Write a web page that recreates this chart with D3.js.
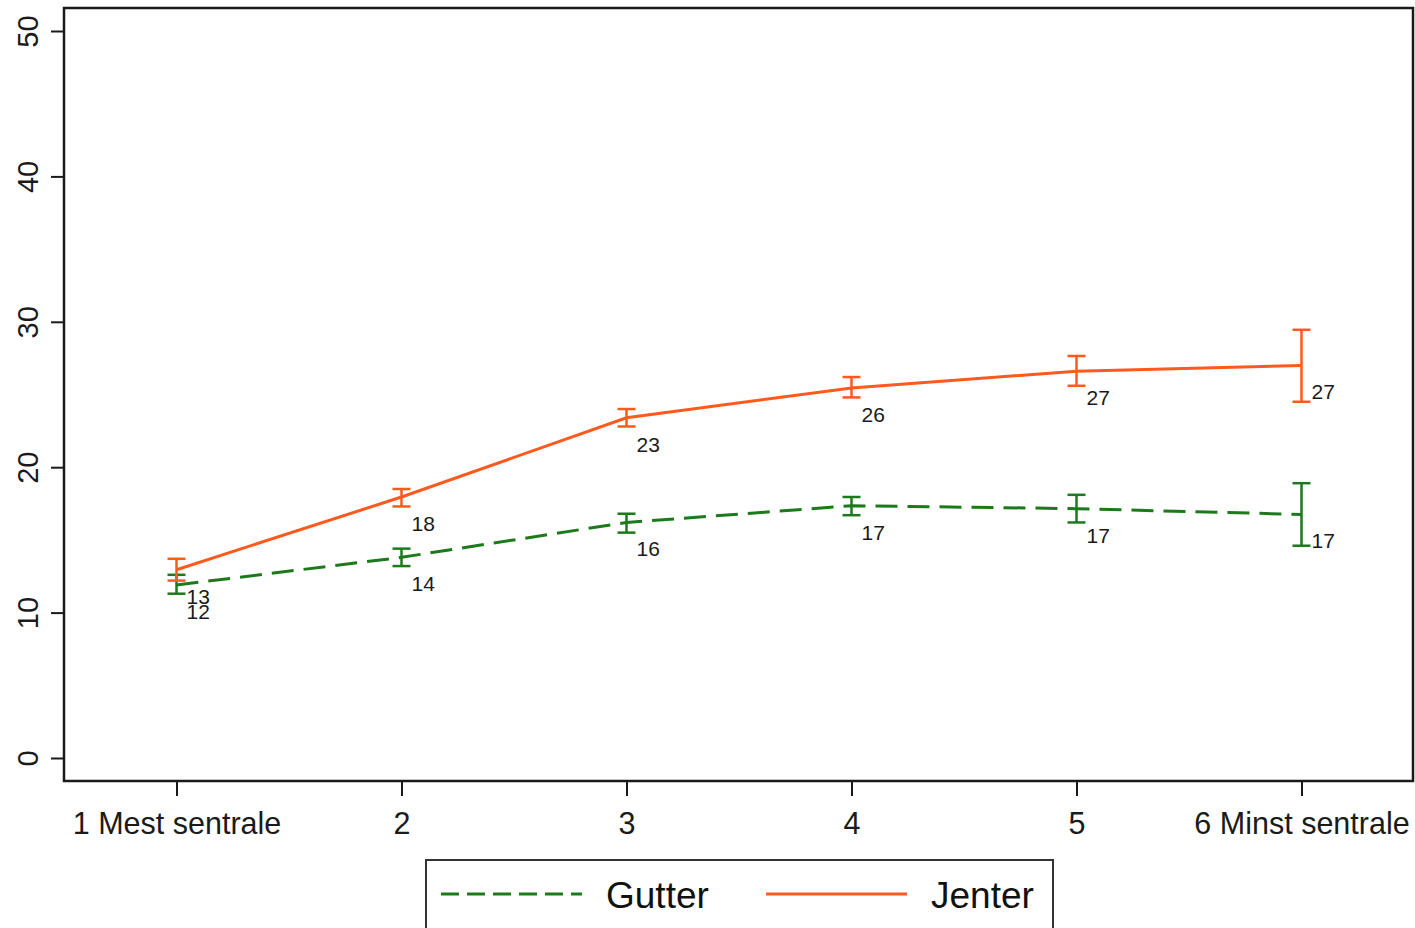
<!DOCTYPE html>
<html>
<head>
<meta charset="utf-8">
<script src="https://cdn.jsdelivr.net/npm/d3@7"></script>
<style>
  html, body { margin: 0; padding: 0; background: #fff; }
  svg { display: block; font-family: "Liberation Sans", Arial, sans-serif; }
</style>
</head>
<body>
<svg id="chart" width="1415" height="928"></svg>
<script>
const categories = [1, 2, 3, 4, 5, 6];
const categoryLabels = ["1 Mest sentrale", "2", "3", "4", "5", "6 Minst sentrale"];
const yTicks = [0, 10, 20, 30, 40, 50];

const gutterMean = [11.9, 13.8, 16.2, 17.35, 17.15, 16.75];
const gutterLo   = [11.3, 13.2, 15.5, 16.7, 16.2, 14.6];
const gutterHi   = [12.6, 14.4, 16.8, 17.95, 18.1, 18.9];
const gutterLbl  = ["12", "14", "16", "17", "17", "17"];

const jenterMean = [12.95, 17.95, 23.4, 25.45, 26.6, 27.0];
const jenterLo   = [12.2, 17.3, 22.8, 24.8, 25.6, 24.5];
const jenterHi   = [13.7, 18.5, 24.0, 26.2, 27.65, 29.45];
const jenterLbl  = ["13", "18", "23", "26", "27", "27"];

const GREEN = "#1c7a1c";
const ORANGE = "#ff5a1e";

const svg = d3.select("#chart");
const frame = { left: 64, right: 1413, top: 8, bottom: 781 };

const x = d3.scaleLinear().domain([0.5, 6.5]).range([64, 1414]);
const y = d3.scaleLinear().domain([0, 50]).range([758, 31]);

// frame
svg.append("rect")
  .attr("x", frame.left).attr("y", frame.top)
  .attr("width", frame.right - frame.left).attr("height", frame.bottom - frame.top)
  .attr("fill", "#fff").attr("stroke", "#1a1a1a").attr("stroke-width", 2.5);

// y axis
const yAxis = svg.append("g")
  .attr("transform", `translate(${frame.left},0)`)
  .call(d3.axisLeft(y).tickValues(yTicks).tickSize(13).tickPadding(8).tickFormat(d3.format("d")));
yAxis.select(".domain").remove();
yAxis.selectAll(".tick line").attr("stroke", "#1a1a1a").attr("stroke-width", 2);
yAxis.selectAll(".tick text")
  .attr("fill", "#1a1a1a").attr("font-size", 29)
  .attr("text-anchor", "middle")
  .attr("x", 0).attr("y", 0).attr("dy", 0)
  .attr("transform", "translate(-36,0) rotate(-90)")
  .attr("dominant-baseline", "central");

// x axis
const xAxis = svg.append("g")
  .attr("transform", `translate(0,${frame.bottom})`)
  .call(d3.axisBottom(x).tickValues(categories).tickSize(15).tickPadding(16)
    .tickFormat((d, i) => categoryLabels[i]));
xAxis.select(".domain").remove();
xAxis.selectAll(".tick line").attr("stroke", "#1a1a1a").attr("stroke-width", 2);
xAxis.selectAll(".tick text").attr("fill", "#1a1a1a").attr("font-size", 30.5);

function drawSeries(mean, lo, hi, lbl, color, dash) {
  const pts = categories.map((c, i) => ({ c, m: mean[i], lo: lo[i], hi: hi[i], l: lbl[i] }));
  const line = d3.line().x(d => x(d.c)).y(d => y(d.m));
  svg.append("path").datum(pts)
    .attr("d", line).attr("fill", "none")
    .attr("stroke", color).attr("stroke-width", 3)
    .attr("stroke-dasharray", dash);
  const g = svg.append("g");
  pts.forEach(d => {
    g.append("line").attr("x1", x(d.c)).attr("x2", x(d.c))
      .attr("y1", y(d.lo)).attr("y2", y(d.hi))
      .attr("stroke", color).attr("stroke-width", 2.5);
    [d.lo, d.hi].forEach(v => {
      g.append("line").attr("x1", x(d.c) - 9).attr("x2", x(d.c) + 9)
        .attr("y1", y(v)).attr("y2", y(v))
        .attr("stroke", color).attr("stroke-width", 2.5);
    });
  });
  return pts;
}

const gPts = drawSeries(gutterMean, gutterLo, gutterHi, gutterLbl, GREEN, "22,10");
const jPts = drawSeries(jenterMean, jenterLo, jenterHi, jenterLbl, ORANGE, null);

[gPts, jPts].forEach(pts => {
  svg.append("g").selectAll("text").data(pts).join("text")
    .attr("x", d => x(d.c) + 10)
    .attr("y", d => y(d.m) + 34)
    .attr("font-size", 21)
    .attr("fill", "#1a1a1a")
    .text(d => d.l);
});

// legend
const leg = svg.append("g");
leg.append("rect").attr("x", 426).attr("y", 860).attr("width", 627).attr("height", 80)
  .attr("fill", "#fff").attr("stroke", "#333").attr("stroke-width", 2);
leg.append("line").attr("x1", 441).attr("x2", 582).attr("y1", 894).attr("y2", 894)
  .attr("stroke", GREEN).attr("stroke-width", 3).attr("stroke-dasharray", "18,8");
leg.append("text").attr("x", 606).attr("y", 908).attr("font-size", 37).attr("fill", "#111").text("Gutter");
leg.append("line").attr("x1", 766).attr("x2", 907).attr("y1", 894).attr("y2", 894)
  .attr("stroke", ORANGE).attr("stroke-width", 3);
leg.append("text").attr("x", 931).attr("y", 908).attr("font-size", 37).attr("fill", "#111").text("Jenter");
</script>
</body>
</html>
